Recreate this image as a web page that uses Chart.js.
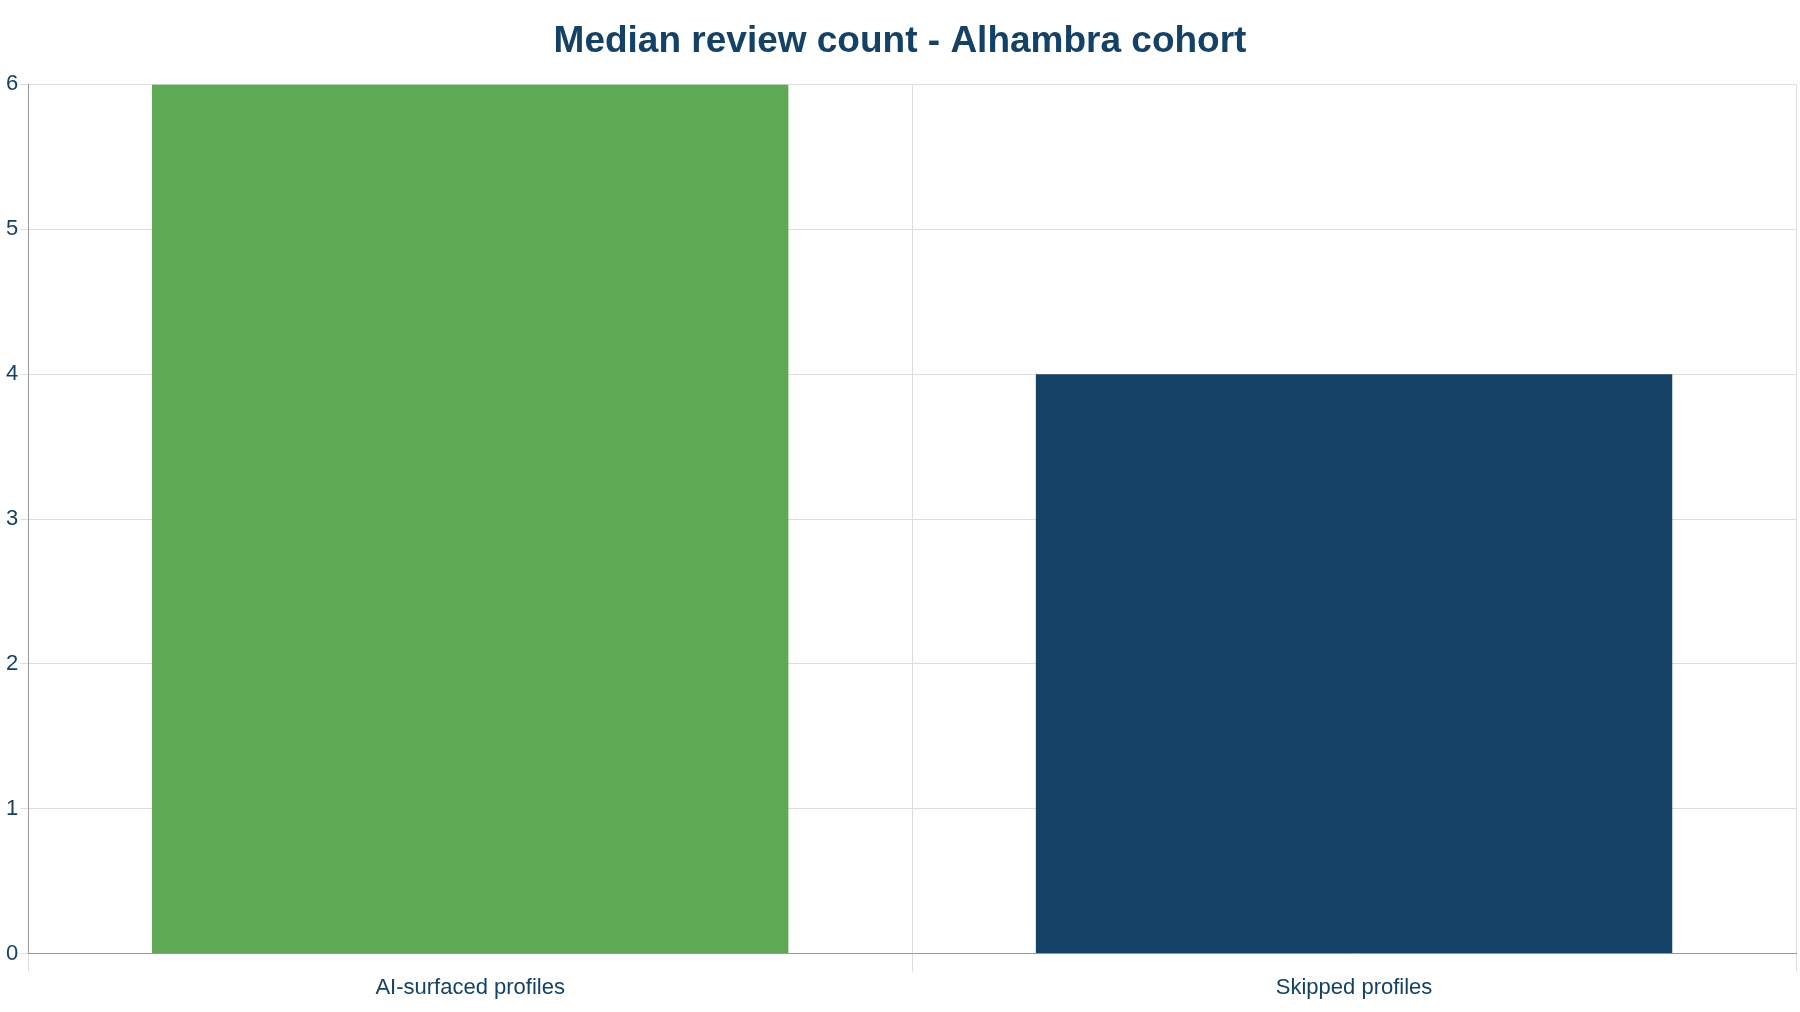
<!DOCTYPE html>
<html lang="en">
<head>
<meta charset="UTF-8">
<title>Median review count - Alhambra cohort</title>
<script src="https://cdn.jsdelivr.net/npm/chart.js"></script>
<style>
  html, body { margin: 0; padding: 0; background: #fff; }
  #wrap { width: 1800px; height: 1012px; }
</style>
</head>
<body>
<div id="wrap"><canvas id="chart"></canvas></div>
<script>
  const categories = ["AI-surfaced profiles", "Skipped profiles"];
  const medianReviews = [6, 4];
  const barColors = ["#5ea953", "#144266"];

  Chart.defaults.font.family = "'Liberation Sans', Arial, sans-serif";
  Chart.defaults.color = "#144266";

  new Chart(document.getElementById("chart"), {
    type: "bar",
    data: {
      labels: categories,
      datasets: [{
        data: medianReviews,
        backgroundColor: barColors,
        barPercentage: 0.72,
        categoryPercentage: 1
      }]
    },
    options: {
      responsive: true,
      maintainAspectRatio: false,
      animation: false,
      layout: { padding: { left: 4, right: 4, bottom: 8 } },
      plugins: {
        legend: { display: false },
        title: {
          display: true,
          text: "Median review count - Alhambra cohort",
          font: { size: 37, weight: "bold" },
          color: "#144266",
          padding: { top: 20, bottom: 20 }
        }
      },
      scales: {
        x: {
          grid: { color: "#dddddd", offset: true, tickLength: 18 },
          border: { color: "#999999" },
          ticks: { font: { size: 22 }, color: "#144266" }
        },
        y: {
          min: 0,
          max: 6,
          grid: { color: "#dddddd", tickLength: 8 },
          border: { color: "#999999" },
          ticks: { stepSize: 1, font: { size: 22 }, color: "#144266", padding: 2 }
        }
      }
    }
  });
</script>
</body>
</html>
